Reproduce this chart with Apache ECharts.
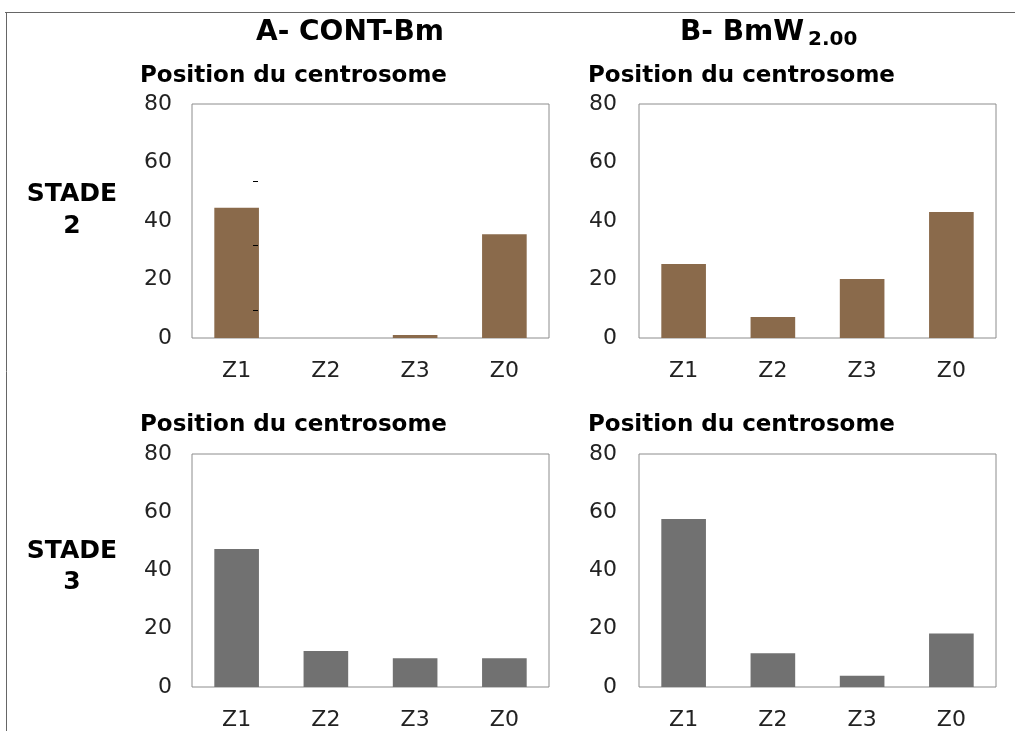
<!DOCTYPE html>
<html>
<head>
<meta charset="utf-8">
<script src="https://cdn.jsdelivr.net/npm/echarts@6/dist/echarts.min.js"></script>
<style>
  body { margin: 0; background: #fff; }
  #chart { width: 1015px; height: 731px; }
</style>
</head>
<body>
<div id="chart"></div>
<script>
  // zones du centrosome
  const categories = ['Z1', 'Z2', 'Z3', 'Z0']
  // pourcentages
  const stade2Cont = [44.5, 0, 1, 35.5]
  const stade2BmW = [25.3, 7.2, 20.2, 43.1]
  const stade3Cont = [47.4, 12.4, 9.9, 9.9]
  const stade3BmW = [57.7, 11.6, 3.9, 18.4]
  const yMax = 80
  const yStep = 20

  const brown = '#8a6a4b'
  const grey = '#717171'
  const tickFont = '"DejaVu Sans", sans-serif'
  const boldFont = '"DejaVu Sans", sans-serif'

  let grids = [
    { left: 192, top: 104, width: 357, height: 234 },
    { left: 639, top: 104, width: 357, height: 234 },
    { left: 192, top: 454, width: 357, height: 234 },
    { left: 639, top: 454, width: 357, height: 234 }
  ].map(g => Object.assign(g, { show: true, borderColor: '#8c8c8c', borderWidth: 1, backgroundColor: 'transparent' }))

  let xAxes = []
  let yAxes = []
  for (let i = 0; i < 4; i++) {
    xAxes.push({
      type: 'category',
      gridIndex: i,
      data: categories,
      axisLine: { show: false },
      axisTick: { show: false },
      axisLabel: { color: '#222', fontSize: 22, fontFamily: tickFont, margin: 22 }
    })
    yAxes.push({
      type: 'value',
      gridIndex: i,
      min: 0,
      max: yMax,
      interval: yStep,
      axisLine: { show: false },
      axisTick: { show: false },
      splitLine: { show: false },
      axisLabel: { color: '#222', fontSize: 22, fontFamily: tickFont, margin: i % 2 ? 22 : 20 }
    })
  }

  function bars (idx, values, color) {
    return {
      type: 'bar',
      xAxisIndex: idx,
      yAxisIndex: idx,
      data: values,
      barWidth: '50%',
      itemStyle: { color: color },
      silent: true
    }
  }

  function label (x, y, text, size, align) {
    return {
      type: 'text',
      x: x,
      y: y,
      style: {
        text: text,
        font: 'bold ' + size + 'px ' + boldFont,
        fill: '#000',
        align: align || 'center',
        verticalAlign: 'middle'
      }
    }
  }

  function dash (y) {
    return {
      type: 'line',
      z: 100,
      shape: { x1: 253, y1: y, x2: 258, y2: y },
      style: { stroke: '#000', lineWidth: 1 }
    }
  }

  let chart = echarts.init(document.getElementById('chart'))
  let option = {
    animation: false,
    grid: grids,
    xAxis: xAxes,
    yAxis: yAxes,
    series: [
      bars(0, stade2Cont, brown),
      bars(1, stade2BmW, brown),
      bars(2, stade3Cont, grey),
      bars(3, stade3BmW, grey)
    ],
    graphic: [
      // cadre
      { type: 'line', shape: { x1: 5, y1: 12.5, x2: 1015, y2: 12.5 }, style: { stroke: '#666', lineWidth: 1 } },
      { type: 'line', shape: { x1: 6.5, y1: 12, x2: 6.5, y2: 731 }, style: { stroke: '#666', lineWidth: 1 } },
      label(350, 33, 'A- CONT-Bm', 28),
      label(680, 33, 'B- BmW', 28, 'left'),
      label(808, 40, '2.00', 20, 'left'),
      label(140, 76, 'Position du centrosome', 23, 'left'),
      label(588, 76, 'Position du centrosome', 23, 'left'),
      label(140, 425, 'Position du centrosome', 23, 'left'),
      label(588, 425, 'Position du centrosome', 23, 'left'),
      label(72, 194, 'STADE', 25),
      label(72, 226, '2', 25),
      label(72, 551, 'STADE', 25),
      label(72, 582, '3', 25),
      // petits traits parasites
      dash(181.5),
      dash(245.5),
      dash(310.5)
    ]
  }
  chart.setOption(option)
</script>
</body>
</html>
